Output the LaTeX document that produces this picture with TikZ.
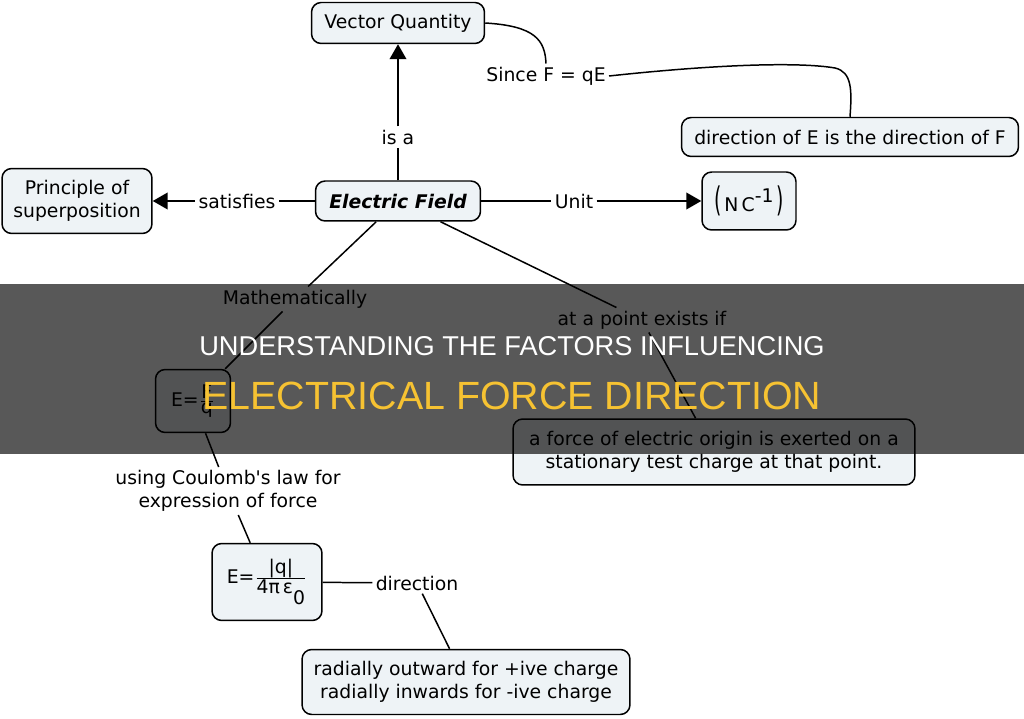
\documentclass[tikz,border=0pt]{standalone}
\usepackage{fontspec}
\setmainfont{DejaVu Sans}
\newfontfamily\titlefont{Liberation Sans}
\usetikzlibrary{arrows.meta}
\definecolor{boxfill}{RGB}{238,243,246}
\definecolor{titleyellow}{RGB}{246,194,50}

\begin{document}
\begin{tikzpicture}[x=0.02cm,y=-0.02cm,line width=0.85pt,
  >={Triangle[length=8.5pt,width=9.5pt]},
  every node/.style={font=\fontsize{10.7}{13.1}\selectfont},
  concept/.style={draw,rounded corners=5.5pt,fill=boxfill,align=center,inner sep=2pt},
  linkword/.style={align=center,inner sep=1.5pt}]
  \useasboundingbox (0,0) rectangle (1024,719);

  \node[concept,minimum width=3.46cm,minimum height=0.82cm] (vq) at (398,23) {Vector Quantity};
  \node[concept,minimum width=6.74cm,minimum height=0.78cm] (dirEF) at (850,137) {direction of E is the direction of F};
  \node[concept,minimum width=3.0cm,minimum height=1.3cm] (sup) at (77,201) {Principle of\\superposition};
  \node[concept,minimum width=3.3cm,minimum height=0.8cm] (ef) at (398,201) {\bfseries\itshape Electric Field};
  \node[concept,minimum width=1.88cm,minimum height=1.16cm] (nc) at (749,201)
    {\scalebox{1}[1.8]{(}\,N\,C\raisebox{0.9ex}{-1}\,\scalebox{1}[1.8]{)}};
  \node[concept,minimum width=1.5cm,minimum height=1.26cm] (efq) at (193,401) {E=$\frac{\hbox{F}}{\hbox{q}}$};
  \node[concept,minimum width=8.04cm,minimum height=1.32cm] (force) at (714,452)
    {a force of electric origin is exerted on a\\stationary test charge at that point.};
  \node[concept,minimum width=2.2cm,minimum height=1.54cm] (ebox) at (267,582)
    {E=$\frac{\hbox{|q|}}{\hbox{4π\,ε\raisebox{-1.1ex}{0}}}$};
  \node[concept,minimum width=6.56cm,minimum height=1.3cm] (radial) at (466,682)
    {radially outward for +ive charge\\radially inwards for -ive charge};

  \node[linkword] (since) at (546,76) {Since F = qE};
  \node[linkword] (isa) at (398,137) {is a};
  \node[linkword] (satisfies) at (237,201) {satisfies};
  \node[linkword] (unit) at (574,201) {Unit};
  \node[linkword] (math) at (295,299) {Mathematically};
  \node[linkword] (atp) at (642,320) {at a point exists if};
  \node[linkword] (coul) at (228,491) {using Coulomb\textquotesingle s law for\\expression of force};
  \node[linkword] (direc) at (417,583) {direction};

  \draw (ef) -- (isa);
  \draw [->] (isa) -- (vq);
  \draw (ef) -- (satisfies);
  \draw [->] (satisfies) -- (sup);
  \draw (ef) -- (unit);
  \draw [->] (unit) -- (nc);
  \draw (ef) -- (math);
  \draw (math) -- (efq);
  \draw (ef) -- (atp);
  \draw (atp) -- (force);
  \draw (efq) -- (coul);
  \draw (coul) -- (ebox);
  \draw (ebox) -- (direc);
  \draw (direc) -- (radial);
  \draw (vq.east) .. controls (535,26) and (545,40) .. (since.north);
  \draw (since.east) .. controls (720,64) and (800,62) .. (835,68)
    .. controls (852,72) and (852,90) .. (dirEF.north);

  \fill[black,opacity=0.655] (0,284) rectangle (1024,454);
  \node[anchor=base,text=white,font=\titlefont\fontsize{15.5}{18}\selectfont] (title1) at (512,356)
    {UNDERSTANDING THE FACTORS INFLUENCING};
  \node[anchor=base,text=titleyellow,font=\titlefont\fontsize{22.4}{26}\selectfont] (title2) at (512,409)
    {ELECTRICAL FORCE DIRECTION};
\end{tikzpicture}
\end{document}
